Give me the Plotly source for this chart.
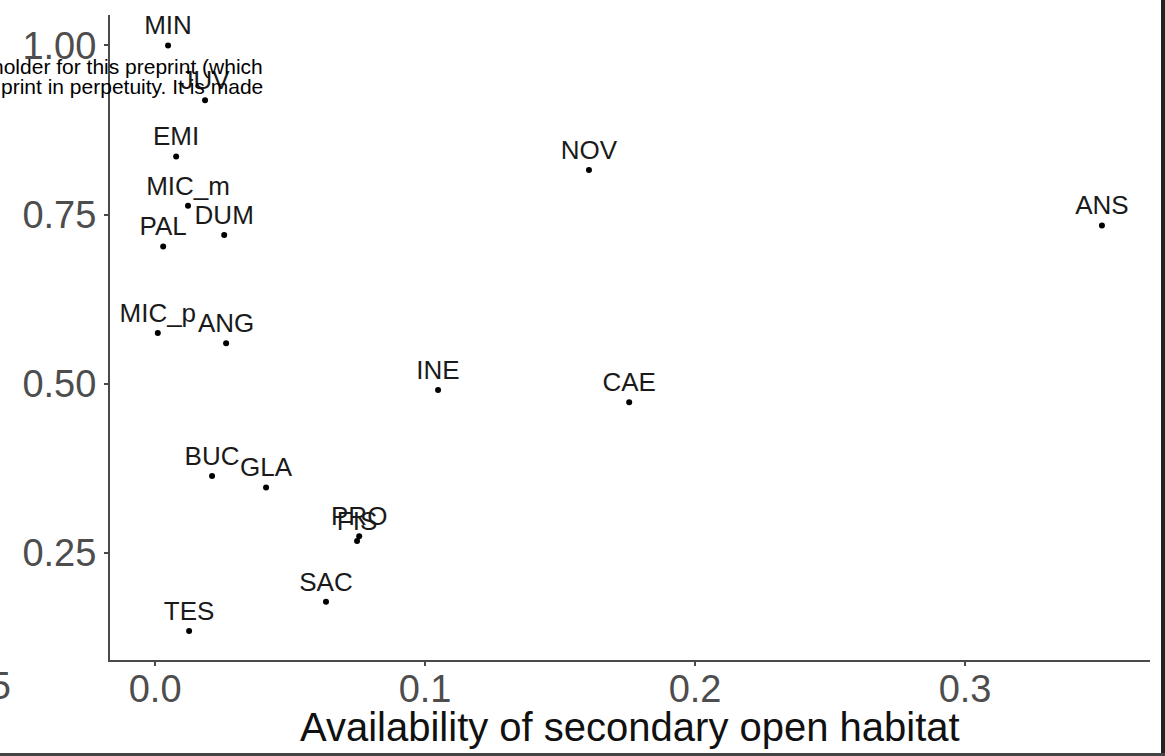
import plotly.graph_objects as go

# Data
labels = ["MIN", "JUV", "EMI", "MIC_m", "DUM", "PAL", "MIC_p", "ANG", "NOV", "ANS",
          "INE", "CAE", "BUC", "GLA", "PRO", "FIS", "SAC", "TES"]
x_vals = [0.0048, 0.0185, 0.0078, 0.0122, 0.0256, 0.0030, 0.0010, 0.0263, 0.1607, 0.3507,
          0.1048, 0.1756, 0.0211, 0.0411, 0.0756, 0.0748, 0.0633, 0.0126]
y_vals = [1.000, 0.919, 0.836, 0.763, 0.720, 0.703, 0.575, 0.560, 0.816, 0.734,
          0.491, 0.473, 0.364, 0.347, 0.275, 0.268, 0.178, 0.135]

x_ticks = [0.0, 0.1, 0.2, 0.3]
x_ticktext = ["0.0", "0.1", "0.2", "0.3"]
y_ticks = [0.25, 0.50, 0.75, 1.00]
y_ticktext = ["0.25", "0.50", "0.75", "1.00"]

x_title = "Availability of secondary open habitat"
overlay_lines = ["holder for this preprint (which", "print in perpetuity. It is made"]
neighbour_tick = "0.25"

FONT = "Liberation Sans, Arial, sans-serif"

# plot area in pixels: x 110..1150, y 15..660
L, R, T, B = 110, 1150, 15, 660
W, H = 1165, 756
def px(xp):
    return (xp - L) / (R - L)
def py(yp):
    return (B - yp) / (B - T)

fig = go.Figure()
fig.add_trace(go.Scatter(
    x=x_vals, y=y_vals, mode="markers+text", text=labels,
    textposition="top center",
    textfont=dict(family=FONT, size=26, color="#1a1a1a"),
    marker=dict(color="black", size=6),
    showlegend=False, cliponaxis=False,
))

axis_common = dict(showline=True, linecolor="#4a4a4a", linewidth=2,
                   ticks="outside", ticklen=4, tickwidth=1.5, tickcolor="#4a4a4a",
                   showgrid=False, zeroline=False,
                   tickfont=dict(family=FONT, size=38, color="#4d4d4d"))

fig.update_layout(
    width=W, height=H,
    margin=dict(l=L, r=W - R, t=T, b=H - B),
    paper_bgcolor="white", plot_bgcolor="white",
    xaxis=dict(range=[-0.0167, 0.3685], tickvals=x_ticks, ticktext=x_ticktext,
               ticklabelstandoff=-10, **axis_common),
    yaxis=dict(range=[0.092, 1.045], tickvals=y_ticks, ticktext=y_ticktext,
               **axis_common),
)

# x-axis title placed precisely under the tick labels
fig.add_annotation(text=x_title, xref="paper", yref="paper",
                   x=px(630), y=py(727), xanchor="center", yanchor="middle",
                   showarrow=False, font=dict(family=FONT, size=40, color="#111"))

# overlaid watermark text from the source page
for i, line in enumerate(overlay_lines):
    fig.add_annotation(text=line, xref="paper", yref="paper",
                       x=px(265), y=py(66 + 20 * i), xanchor="right", yanchor="middle",
                       showarrow=False,
                       font=dict(family=FONT, size=21, color="black"))

# fragment of neighbouring panel tick label
fig.add_annotation(text=neighbour_tick, xref="paper", yref="paper",
                   x=px(13), y=py(686), xanchor="right", yanchor="middle",
                   showarrow=False, font=dict(family=FONT, size=38, color="#4d4d4d"))

# frame edges (right and bottom)
fig.add_shape(type="line", xref="paper", yref="paper",
              x0=px(1163), x1=px(1163), y0=py(757), y1=py(-1),
              line=dict(color="#222", width=4))
fig.add_shape(type="line", xref="paper", yref="paper",
              x0=px(-1), x1=px(1166), y0=py(754.5), y1=py(754.5),
              line=dict(color="#444", width=3))

fig.write_html("out.html")
